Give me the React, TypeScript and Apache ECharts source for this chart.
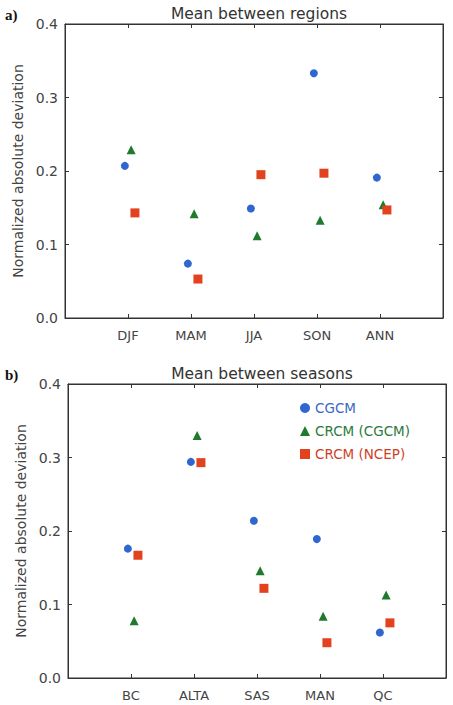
import React, { useEffect, useRef } from "react";
import * as echarts from "echarts";

const regionCats = ["DJF", "MAM", "JJA", "SON", "ANN"];
const seasonCats = ["BC", "ALTA", "SAS", "MAN", "QC"];
const seriesNames = ["CGCM", "CRCM (CGCM)", "CRCM (NCEP)"];

// Panel a: mean between regions
const aCGCM = [0.207, 0.074, 0.149, 0.333, 0.191];
const aCRCM_CGCM = [0.229, 0.142, 0.112, 0.133, 0.154];
const aCRCM_NCEP = [0.143, 0.053, 0.195, 0.197, 0.147];

// Panel b: mean between seasons
const bCGCM = [0.176, 0.294, 0.214, 0.189, 0.062];
const bCRCM_CGCM = [0.078, 0.330, 0.146, 0.084, 0.113];
const bCRCM_NCEP = [0.167, 0.293, 0.122, 0.048, 0.075];

const colors = ["#2f66d0", "#1f7a2e", "#e2431e"];
const textColors = ["#3a68c4", "#2c7a3c", "#cf3f28"];
const symbols = ["circle", "triangle", "rect"];
const symbolSizes = [8, 9, 9];
const offsets = [-0.05, 0.05, 0.11];

const FONT = "DejaVu Sans";

export default function App() {
  const ref = useRef<HTMLDivElement>(null);
  useEffect(() => {
    document.body.style.margin = "0";
    const chart = echarts.init(ref.current!, null, { renderer: "svg" });
    const makeX = (gridIndex: number, cats: string[], position: "bottom" | "top") => ({
      type: "value",
      show: true,
      gridIndex,
      position,
      offset: 0,
      min: 0,
      max: 6,
      interval: 1,
      axisLine: { show: true, onZero: false, lineStyle: { color: "#333", width: 1 } },
      axisTick: { show: true, inside: true, length: 4, lineStyle: { color: "#333" } },
      splitLine: { show: false },
      axisLabel: {
        show: position === "bottom",
        margin: 11,
        fontFamily: FONT,
        fontSize: 13,
        color: "#444",
        formatter: (v: number) => (v >= 1 && v <= 5 ? cats[v - 1] : ""),
      },
    });
    const makeY = (gridIndex: number, position: "left" | "right") => ({
      type: "value",
      show: true,
      gridIndex,
      position,
      offset: 0,
      min: 0,
      max: 0.4,
      interval: 0.1,
      axisLine: { show: true, onZero: false, lineStyle: { color: "#333", width: 1 } },
      axisTick: { show: true, inside: true, length: 4, lineStyle: { color: "#333" } },
      splitLine: { show: false },
      name: position === "left" ? "Normalized absolute deviation" : "",
      nameLocation: "middle",
      nameGap: 40,
      nameTextStyle: { fontFamily: FONT, fontSize: 14, color: "#444" },
      axisLabel: {
        show: position === "left",
        margin: 7,
        fontFamily: FONT,
        fontSize: 14,
        color: "#444",
        formatter: (v: number) => v.toFixed(1),
      },
    });
    const panels = [
      [aCGCM, aCRCM_CGCM, aCRCM_NCEP],
      [bCGCM, bCRCM_CGCM, bCRCM_NCEP],
    ];
    const series: any[] = [];
    panels.forEach((p, gi) => {
      p.forEach((vals, si) => {
        series.push({
          type: "scatter",
          name: seriesNames[si],
          xAxisIndex: gi * 2,
          yAxisIndex: gi * 2,
          symbol: symbols[si],
          symbolSize: symbolSizes[si],
          itemStyle: { color: colors[si], opacity: 1 },
          data: vals.map((v, i) => [i + 1 + offsets[si], v]),
          z: 3 + si,
        });
      });
      // invisible series bound to the mirror axes so they are laid out
      series.push({
        type: "scatter",
        xAxisIndex: gi * 2 + 1,
        yAxisIndex: gi * 2 + 1,
        symbolSize: 0,
        silent: true,
        data: [],
      });
    });
    chart.setOption({
      animation: false,
      backgroundColor: "#fff",
      title: [
        {
          text: "Mean between regions",
          left: 254,
          top: 1,
          textAlign: "center",
          textStyle: { fontFamily: FONT, fontSize: 15.5, fontWeight: "normal", color: "#333" },
        },
        {
          text: "Mean between seasons",
          left: 257,
          top: 361,
          textAlign: "center",
          textStyle: { fontFamily: FONT, fontSize: 15.5, fontWeight: "normal", color: "#333" },
        },
        {
          text: "a)",
          left: 0,
          top: 2,
          textStyle: { fontFamily: "Liberation Serif", fontSize: 15, fontWeight: "bold", color: "#111" },
        },
        {
          text: "b)",
          left: 0,
          top: 362,
          textStyle: { fontFamily: "Liberation Serif", fontSize: 15, fontWeight: "bold", color: "#111" },
        },
      ],
      legend: {
        orient: "vertical",
        left: 300,
        top: 401,
        padding: 0,
        itemGap: 9,
        itemWidth: 10,
        itemHeight: 10,
        data: seriesNames.map((n, i) => ({
          name: n,
          icon: symbols[i],
          itemStyle: { color: colors[i] },
          textStyle: { color: textColors[i], fontFamily: FONT, fontSize: 13.5 },
        })),
        selectedMode: false,
      },
      grid: [
        { left: 65, top: 24, width: 378, height: 294, show: true, borderColor: "#333", borderWidth: 1, backgroundColor: "transparent" },
        { left: 68, top: 384, width: 378, height: 294, show: true, borderColor: "#333", borderWidth: 1, backgroundColor: "transparent" },
      ],
      xAxis: [
        makeX(0, regionCats, "bottom"),
        makeX(0, regionCats, "top"),
        makeX(1, seasonCats, "bottom"),
        makeX(1, seasonCats, "top"),
      ],
      yAxis: [makeY(0, "left"), makeY(0, "right"), makeY(1, "left"), makeY(1, "right")],
      series,
    });
    return () => chart.dispose();
  }, []);
  return <div ref={ref} style={{ width: 453, height: 705 }} />;
}
